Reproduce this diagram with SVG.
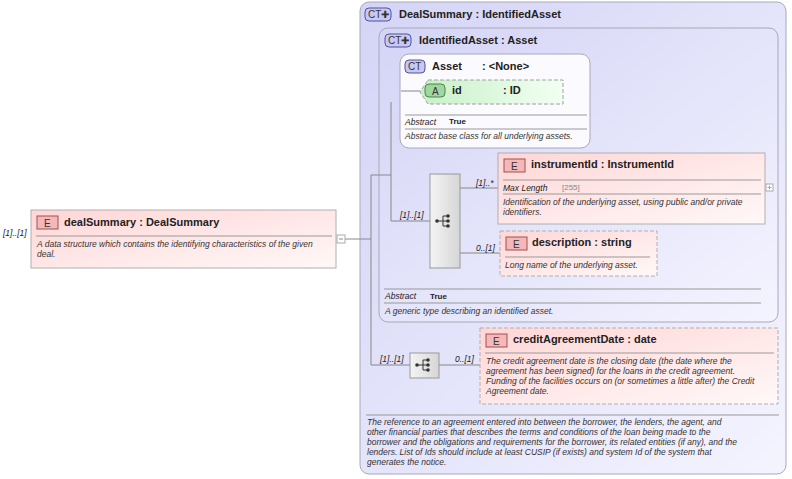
<svg xmlns="http://www.w3.org/2000/svg" width="792" height="479" viewBox="0 0 792 479">
<defs>
<linearGradient id="gE" x1="0" y1="0" x2="1" y2="1"><stop offset="0" stop-color="#ffd6d6"/><stop offset="1" stop-color="#fff8f8"/></linearGradient>
<linearGradient id="gA" x1="0" y1="0" x2="1" y2="0"><stop offset="0" stop-color="#c8f0c8"/><stop offset="1" stop-color="#f2fff2"/></linearGradient>
<linearGradient id="gCT" x1="0" y1="0" x2="1" y2="1"><stop offset="0" stop-color="#d4d4f6"/><stop offset="1" stop-color="#f4f4ff"/></linearGradient>
<linearGradient id="gS" x1="0" y1="0" x2="1" y2="0"><stop offset="0" stop-color="#f4f4f4"/><stop offset="1" stop-color="#d6d6d6"/></linearGradient>
<g id="seqicon"><line x1="-6" y1="0" x2="0" y2="0" stroke="#333"/><line x1="0" y1="-5" x2="0" y2="5" stroke="#333"/><line x1="0" y1="-5" x2="4" y2="-5" stroke="#333"/><line x1="0" y1="5" x2="4" y2="5" stroke="#333"/><line x1="0" y1="0" x2="4" y2="0" stroke="#333"/><circle cx="-6" cy="0" r="1.8" fill="#333"/><circle cx="5" cy="-5" r="1.8" fill="#333"/><circle cx="5" cy="0" r="1.8" fill="#333"/><circle cx="5" cy="5" r="1.8" fill="#333"/></g>
</defs>
<style>
text{font-family:"Liberation Sans",Arial,sans-serif;fill:#222}
.h{font-size:11px;font-weight:bold}
.d{font-size:8.5px;font-style:italic;fill:#333}
.m{font-size:8.5px;font-style:italic;fill:#222}
.b{font-size:8px;font-weight:bold}
.ct{fill:url(#gCT);stroke:#a8a8b8}
.el{fill:url(#gE);stroke:#b0b0b0}
.dash{stroke-dasharray:4,2}
.sep{stroke:#999;stroke-width:1}
.ln{stroke:#888;fill:none}
.badgeE{fill:#f4b8b8;stroke:#a05050}
.badgeC{fill:#c8c8f0;stroke:#5050a0}
.bt{font-size:10px;fill:#333}
</style>
<g id="DealSummaryCT">
<rect class="ct" x="360" y="2" width="426" height="472" rx="9"/>
<rect class="badgeC" x="365" y="8" width="26" height="13" rx="4"/><text x="368" y="18" class="bt">CT✚</text>
<text x="399" y="18" class="h">DealSummary : IdentifiedAsset</text>
<line class="sep" x1="366" y1="415" x2="779" y2="415"/>
<text class="d"><tspan x="367" y="425">The reference to an agreement entered into between the borrower, the lenders, the agent, and</tspan><tspan x="367" y="435">other financial parties that describes the terms and conditions of the loan being made to the</tspan><tspan x="367" y="445">borrower and the obligations and requirements for the borrower, its related entities (if any), and the</tspan><tspan x="367" y="455">lenders. List of Ids should include at least CUSIP (if exists) and system Id of the system that</tspan><tspan x="367" y="465">generates the notice.</tspan></text>
</g>
<g id="IdentifiedAssetCT">
<rect class="ct" x="379" y="28" width="399" height="294" rx="9"/>
<rect class="badgeC" x="385" y="34" width="26" height="13" rx="4"/><text x="388" y="44" class="bt">CT✚</text>
<text x="419" y="44" class="h">IdentifiedAsset : Asset</text>
<line class="sep" x1="384" y1="289" x2="761" y2="289"/>
<text x="385" y="299" class="m">Abstract</text><text x="430" y="299" class="b">True</text>
<line class="sep" x1="384" y1="303" x2="761" y2="303"/>
<text x="385" y="314" class="d">A generic type describing an identified asset.</text>
</g>
<g id="AssetCT">
<rect x="400" y="54" width="190" height="94" rx="9" fill="#fbfbff" stroke="#a8a8b8"/>
<rect class="badgeC" x="405" y="60" width="20" height="13" rx="4"/><text x="408" y="70" class="bt">CT</text>
<text x="432" y="70" class="h">Asset</text><text x="482" y="70" class="h">: &lt;None&gt;</text>
<line class="sep" x1="405" y1="115" x2="587" y2="115"/>
<text x="405" y="125" class="m">Abstract</text><text x="449" y="124" class="b">True</text>
<line class="sep" x1="405" y1="129" x2="587" y2="129"/>
<text x="405" y="139" class="d">Abstract base class for all underlying assets.</text>
</g>
<g id="connectors">
<path class="ln" d="M345 239 H371 M371 175 V365 M371 175 H391 M391 102 V221 H430 M401 91 H420 M460 188 H498 M460 253 H500 M371 365 H410 M439 365 H480"/>
</g>
<g id="idAttr">
<path d="M428 80 H563 V104 H428 L420 92 Z" fill="url(#gA)" stroke="#a0a0a0" class="dash"/>
<rect x="425" y="84" width="20" height="13" rx="4" fill="#9ed89e" stroke="#508050"/><text x="432" y="95" class="bt">A</text>
<text x="452" y="94" class="h">id</text><text x="503" y="94" class="h">: ID</text>
</g>
<g id="seq1">
<rect x="430" y="174" width="30" height="94" fill="url(#gS)" stroke="#999"/>
<use href="#seqicon" x="443" y="221"/>
<text x="400" y="218" class="m">[1]..[1]</text>
<text x="476" y="186" class="m">[1]..*</text>
<text x="476" y="251" class="m">0..[1]</text>
</g>
<g id="instrumentId">
<rect class="el" x="498" y="153" width="267" height="71"/>
<rect class="badgeE" x="504" y="159" width="21" height="13"/><text x="511" y="170" class="bt">E</text>
<text x="531" y="168" class="h">instrumentId : InstrumentId</text>
<line class="sep" x1="503" y1="180" x2="761" y2="180"/>
<text x="503" y="191" class="m">Max Length</text><text x="562" y="190" style="font-size:8px;fill:#888">[255]</text>
<line class="sep" x1="503" y1="194" x2="761" y2="194"/>
<text class="d"><tspan x="503" y="205">Identification of the underlying asset, using public and/or private</tspan><tspan x="503" y="215">identifiers.</tspan></text>
<rect x="766" y="184" width="7" height="7" fill="#fff" stroke="#aaa"/><path d="M767.5 187.5 H771.5 M769.5 185.5 V189.5" stroke="#aaa"/>
</g>
<g id="description">
<rect class="el dash" x="500" y="231" width="157" height="45"/>
<rect class="badgeE" x="506" y="237" width="21" height="13"/><text x="513" y="248" class="bt">E</text>
<text x="532" y="246" class="h">description : string</text>
<line class="sep" x1="505" y1="257" x2="650" y2="257"/>
<text x="505" y="268" class="d">Long name of the underlying asset.</text>
</g>
<g id="seq2">
<rect x="410" y="353" width="29" height="25" fill="url(#gS)" stroke="#999"/>
<use href="#seqicon" x="423" y="365"/>
<text x="380" y="362" class="m">[1]..[1]</text>
<text x="455" y="362" class="m">0..[1]</text>
</g>
<g id="creditAgreementDate">
<rect class="el dash" x="480" y="328" width="298" height="76"/>
<rect class="badgeE" x="486" y="334" width="21" height="13"/><text x="493" y="345" class="bt">E</text>
<text x="513" y="343" class="h">creditAgreementDate : date</text>
<line class="sep" x1="485" y1="353" x2="774" y2="353"/>
<text class="d"><tspan x="486" y="364">The credit agreement date is the closing date (the date where the</tspan><tspan x="486" y="374">agreement has been signed) for the loans in the credit agreement.</tspan><tspan x="486" y="384">Funding of the facilities occurs on (or sometimes a little after) the Credit</tspan><tspan x="486" y="394">Agreement date.</tspan></text>
</g>
<g id="dealSummary">
<text x="3" y="236" class="m">[1]..[1]</text>
<rect class="el" x="31" y="210" width="305" height="58"/>
<rect class="badgeE" x="37" y="216" width="21" height="13"/><text x="44" y="227" class="bt">E</text>
<text x="64" y="226" class="h">dealSummary : DealSummary</text>
<line class="sep" x1="36" y1="236" x2="332" y2="236"/>
<text class="d"><tspan x="37" y="247">A data structure which contains the identifying characteristics of the given</tspan><tspan x="37" y="257">deal.</tspan></text>
<rect x="337" y="235" width="8" height="8" fill="#fff" stroke="#aaa"/><path d="M339 239 H343" stroke="#888"/>
</g>
</svg>
